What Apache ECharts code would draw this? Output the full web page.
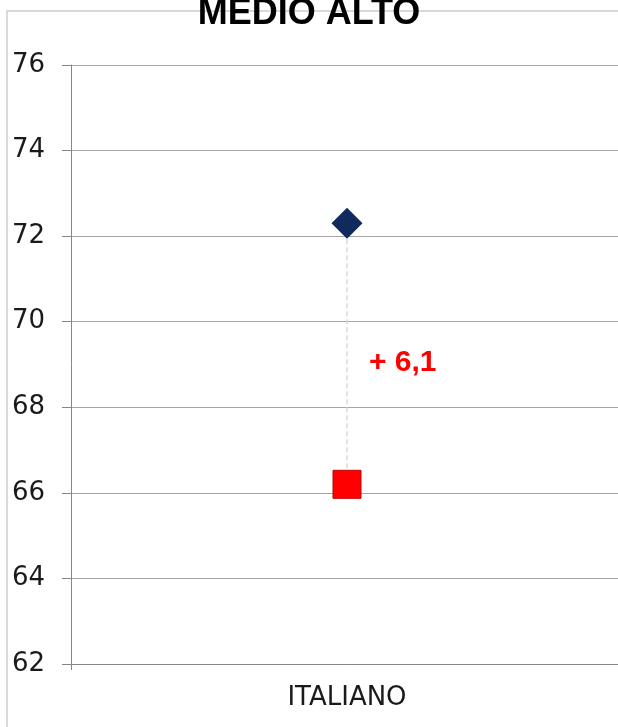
<!DOCTYPE html>
<html>
<head>
<meta charset="utf-8">
<script src="https://cdn.jsdelivr.net/npm/echarts@6/dist/echarts.min.js"></script>
<style>
  html, body { margin: 0; padding: 0; background: #fff; }
  #chart { width: 618px; height: 727px; }
</style>
</head>
<body>
<div id="chart"></div>
<script>
// data
const categories = ['ITALIANO'];
const upperValues = [72.3];
const lowerValues = [66.2];
const diffLabels = ['+ 6,1'];
const yTicks = { min: 62, max: 76, interval: 2 };

const chart = echarts.init(document.getElementById('chart'), null, { renderer: 'canvas' });

// dashed connector between the two points of each category
const connector = [];
categories.forEach((c, i) => {
  connector.push([i, upperValues[i]], [i, lowerValues[i]], null);
});

const midPoints = categories.map((c, i) => ({
  value: [i, (upperValues[i] + lowerValues[i]) / 2],
  label: { formatter: diffLabels[i] }
}));

const option = {
  animation: false,
  title: {
    text: 'MEDIO ALTO',
    left: 'center',
    top: -9,
    textStyle: {
      fontFamily: 'Liberation Sans',
      fontWeight: 'bold',
      fontSize: 36,
      color: '#000'
    }
  },
  // chart frame, only top and left edges are visible in the crop
  graphic: [{
    type: 'polyline',
    z: -10,
    shape: { points: [[7, 800], [7, 11], [800, 11]] },
    style: { fill: 'none', stroke: '#d9d9d9', lineWidth: 2 }
  }],
  grid: { left: 71, top: 65, height: 599, width: 552, outerBoundsMode: 'none', containLabel: false },
  xAxis: {
    type: 'category',
    data: categories,
    boundaryGap: true,
    axisLine: { lineStyle: { color: '#868686', width: 1 } },
    axisTick: { show: true, length: 6, lineStyle: { color: '#868686' } },
    axisLabel: {
      margin: 21,
      fontFamily: 'DejaVu Sans',
      fontSize: 26,
      color: '#1a1a1a'
    }
  },
  yAxis: {
    type: 'value',
    min: yTicks.min,
    max: yTicks.max,
    interval: yTicks.interval,
    axisLine: { show: true, lineStyle: { color: '#868686', width: 1 } },
    axisTick: { show: true, length: 9, lineStyle: { color: '#868686' } },
    splitLine: { lineStyle: { color: '#a6a6a6', width: 1 } },
    axisLabel: {
      margin: 26,
      fontFamily: 'DejaVu Sans',
      fontSize: 26,
      color: '#1a1a1a'
    }
  },
  series: [
    {
      type: 'line',
      data: connector,
      symbol: 'none',
      z: 1,
      lineStyle: { color: '#d9d9d9', width: 1.5, type: [5, 3] }
    },
    {
      type: 'scatter',
      data: upperValues.map((v, i) => [i, v]),
      symbol: 'diamond',
      symbolSize: [31, 31],
      z: 3,
      itemStyle: { color: '#102a5e', opacity: 1 }
    },
    {
      type: 'scatter',
      data: lowerValues.map((v, i) => [i, v]),
      symbol: 'rect',
      symbolSize: 28,
      z: 3,
      itemStyle: { color: '#ff0000', borderColor: '#c00000', borderWidth: 1, opacity: 1 }
    },
    {
      type: 'scatter',
      data: midPoints,
      symbolSize: 0,
      z: 4,
      itemStyle: { opacity: 1 },
      label: {
        show: true,
        position: 'right',
        distance: 22,
        offset: [0, 9],
        fontFamily: 'Liberation Sans',
        fontWeight: 'bold',
        fontSize: 30,
        color: '#ff0000'
      }
    }
  ]
};

chart.setOption(option);
</script>
</body>
</html>
